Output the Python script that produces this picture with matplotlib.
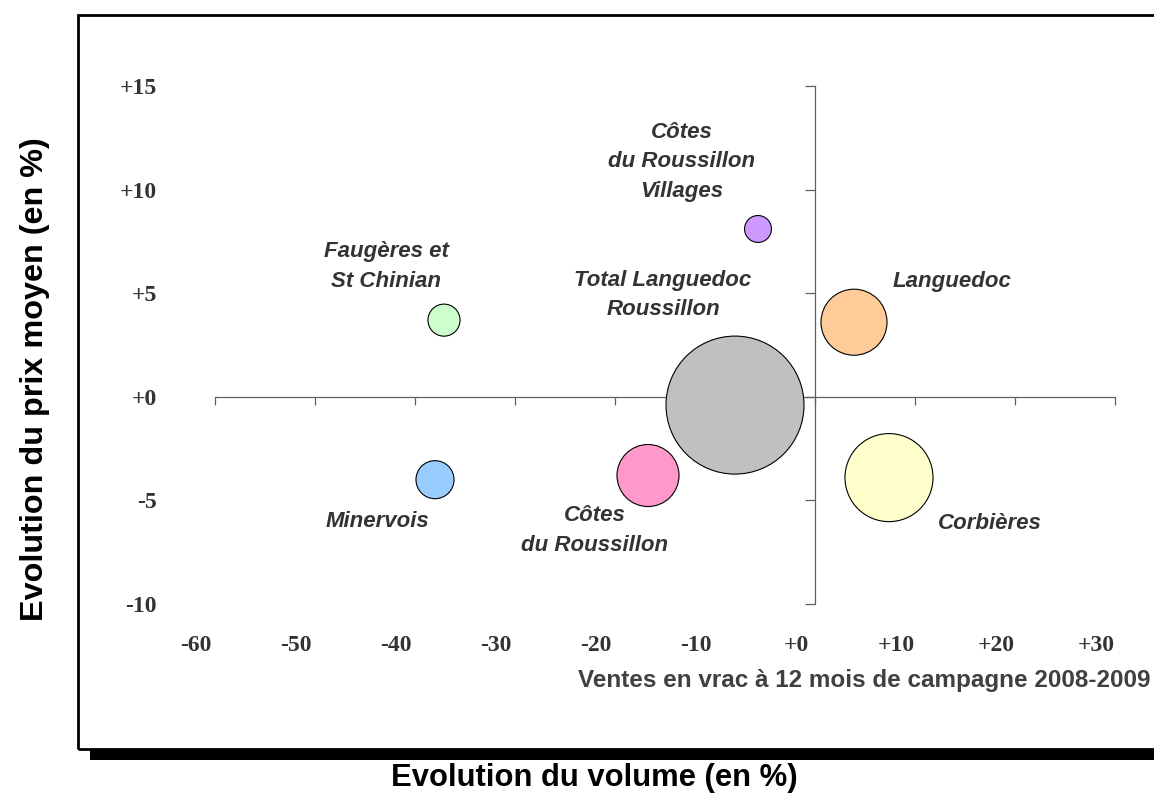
import matplotlib
matplotlib.use('Agg')
import matplotlib.pyplot as plt
import matplotlib.transforms as mtransforms
from matplotlib.patches import Rectangle
import numpy as np

# Appellations: évolution du volume (x, %) et du prix moyen (y, %)
appellations = ["Côtes\ndu Roussillon\nVillages", "Faugères et\nSt Chinian", "Languedoc",
                "Total Languedoc\nRoussillon", "Minervois", "Côtes\ndu Roussillon", "Corbières"]
evol_volume = [-5.7, -37.1, 3.9, -8.0, -38.0, -16.7, 7.4]
evol_prix = [8.1, 3.7, 3.6, -0.4, -4.0, -3.8, -3.9]
poids = [3.8, 5.4, 22.9, 100.0, 7.6, 20.2, 40.7]   # taille relative des bulles (volumes)
couleurs = ["#CC99FF", "#CCFFCC", "#FFCC99", "#C0C0C0", "#99CCFF", "#FF99CC", "#FFFFCC"]

x_ticks = [-60, -50, -40, -30, -20, -10, 0, 10, 20, 30]
x_labels = ["-60", "-50", "-40", "-30", "-20", "-10", "+0", "+10", "+20", "+30"]
y_ticks = [-10, -5, 0, 5, 10, 15]
y_labels = ["-10", "-5", "+0", "+5", "+10", "+15"]

# label offsets (pixels) relative to bubble centre
label_offsets = [(-76, 67), (-58, 54), (98, 41), (-72, 110), (-58, -42), (-53, -55), (101, -46)]

W, H = 1154, 794
fig = plt.figure(figsize=(W / 100, H / 100), dpi=100)
fig.patch.set_facecolor('white')

rect = [215 / W, (H - 604) / H, 900 / W, 518 / H]
ax = fig.add_axes(rect)
ax.set_xlim(-60, 30)
ax.set_ylim(-10, 15)
ax.patch.set_visible(False)
for side in ['top', 'right']:
    ax.spines[side].set_visible(False)
ax.spines['left'].set_position(('data', 0))
ax.spines['bottom'].set_position(('data', 0))
for side in ['left', 'bottom']:
    ax.spines[side].set_color('#606060')
    ax.spines[side].set_linewidth(0.9)
ax.set_xticks(x_ticks)
ax.set_yticks(y_ticks)
ax.tick_params(axis='x', direction='out', length=6, width=0.9, color='#606060',
               labelbottom=False)
ax.tick_params(axis='y', direction='out', length=7, width=0.9, color='#606060',
               labelleft=False)

# bubbles (area proportional to poids)
s_max = (1.44 * 69) ** 2
sizes = np.array(poids) / max(poids) * s_max
ax.scatter(evol_volume, evol_prix, s=sizes, c=couleurs, edgecolors='black',
           linewidths=0.8, zorder=3, clip_on=False)

for name, xv, yv, off in zip(appellations, evol_volume, evol_prix, label_offsets):
    ax.annotate(name, (xv, yv), xytext=off, textcoords='offset pixels',
                ha='center', va='center', fontsize=16, fontweight='bold',
                fontstyle='italic', family='Liberation Sans', color='#333333',
                linespacing=1.55, zorder=4)

# tick labels live on an overlay axes at the plot edges
lab = fig.add_axes(rect, sharex=ax, sharey=ax)
lab.patch.set_visible(False)
for sp in lab.spines.values():
    sp.set_visible(False)
lab.tick_params(axis='both', length=0, labelsize=17, labelcolor='#333333')
lab.tick_params(axis='x', pad=22)
lab.tick_params(axis='y', pad=42)
lab.set_xticks(x_ticks)
lab.set_xticklabels(x_labels)
lab.set_yticks(y_ticks)
lab.set_yticklabels(y_labels)
shift = mtransforms.ScaledTranslation(-19 / 100, 0, fig.dpi_scale_trans)
for t in lab.get_xticklabels() + lab.get_yticklabels():
    t.set_family('Liberation Serif')
    t.set_fontweight('bold')
for t in lab.get_xticklabels():
    t.set_transform(t.get_transform() + shift)

fig.text(1150 / W, 1 - 681 / H, "Ventes en vrac à 12 mois de campagne 2008-2009",
         ha='right', va='center', fontsize=17.5, fontweight='bold',
         family='Liberation Sans', color='#404040')

# chart frame with drop shadow
fig.patches.append(Rectangle((78 / W, 1 - 749 / H), 1.2, (749 - 15) / H,
                             fill=False, lw=2, edgecolor='black',
                             transform=fig.transFigure, figure=fig))
fig.patches.append(Rectangle((90 / W, 1 - 760 / H), 1.2, 10 / H,
                             facecolor='black', edgecolor='none',
                             transform=fig.transFigure, figure=fig))

fig.text(594 / W, 1 - 778 / H, "Evolution du volume (en %)", ha='center',
         va='center', fontsize=22.3, fontweight='bold', family='Liberation Sans')
fig.text(35 / W, 1 - 379 / H, "Evolution du prix moyen (en %)", ha='center',
         va='center', rotation=90, fontsize=23.3, fontweight='bold',
         family='Liberation Sans')

fig.savefig('out.png', dpi=100, facecolor='white')
